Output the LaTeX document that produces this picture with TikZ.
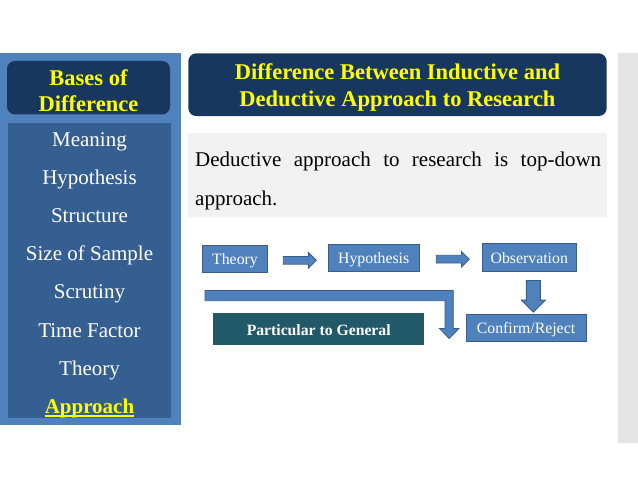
\documentclass[tikz,border=0pt]{standalone}
\usepackage{fontspec}
\setmainfont{Liberation Serif}
\usetikzlibrary{positioning}
\usetikzlibrary{calc}
\usetikzlibrary{shapes.arrows}

\definecolor{panelblue}{HTML}{4F81BD}
\definecolor{listblue}{HTML}{365F91}
\definecolor{navy}{HTML}{17375E}
\definecolor{boxline}{HTML}{385D8A}
\definecolor{darkteal}{HTML}{215968}
\definecolor{hiyellow}{HTML}{FFFF00}
\definecolor{lightgray}{HTML}{F2F2F2}
\definecolor{stripgray}{HTML}{E4E4E4}

\begin{document}
\begin{tikzpicture}
		[x=1pt, y=-1pt,
		navybox/.style={rectangle, rounded corners=8pt, fill=navy, inner sep=0pt},
		head/.style={text=hiyellow, align=center, inner sep=0pt, font=\bfseries\fontsize{22.5}{26.7}\selectfont},
		item/.style={text=white, anchor=base, inner sep=0pt, font=\fontsize{21}{25}\selectfont},
		flowbox/.style={rectangle, draw=boxline, fill=panelblue, text=white, line width=0.8pt, inner sep=0pt, text height=12.5pt, text depth=1.5pt, font=\fontsize{15.8}{18}\selectfont},
		barrow/.style={single arrow, draw=boxline, fill=panelblue, line width=0.8pt, inner sep=3.5pt, single arrow head extend=4pt, minimum height=33pt}]
		\useasboundingbox (0,0) rectangle (638,479);

		% left column
		\fill[panelblue] (0,52.5) rectangle (180.5,424.5);
		\fill[listblue] (8,123) rectangle (171,418);
		\node[navybox, minimum width=163pt, minimum height=53.5pt] (basesbox) at (88.5,87.7) {};
		\node[head] (bases) at ($(basesbox.center)+(0,3)$) {Bases of\\Difference};
		\node[item] (meaning) at (89.5,146.5) {Meaning};
		\node[item] (hypo) at (89.5,184.6) {Hypothesis};
		\node[item] (struct) at (89.5,222.7) {Structure};
		\node[item] (sample) at (89.5,260.8) {Size of Sample};
		\node[item] (scrut) at (89.5,298.9) {Scrutiny};
		\node[item] (time) at (89.5,337) {Time Factor};
		\node[item] (theo) at (89.5,375.1) {Theory};
		\node[item, text=hiyellow, font=\bfseries\fontsize{21}{25}\selectfont] (appr) at (89.5,413.2) {Approach};
		\draw[hiyellow, line width=2pt] ($(appr.base west)+(0,3.2)$) -- ($(appr.base east)+(0,3.2)$);

		% right side
		\fill[stripgray] (618.3,52.7) rectangle (638,443.3);
		\node[navybox, minimum width=418.4pt, minimum height=62.7pt] (titlebox) at (397.5,84.7) {};
		\node[head] (title) at ($(titlebox.center)+(0,3)$) {Difference Between Inductive and\\Deductive Approach to Research};
		\fill[lightgray] (188,133.3) rectangle (606.7,216.7);
		\node[anchor=base west, inner sep=0pt, text width=406pt, align=justify, font=\fontsize{21}{38.3}\selectfont] (desc) at (195,166.7) {Deductive approach to research is top-down\linebreak approach.};

		% flow
		\node[flowbox, minimum width=64.6pt, minimum height=27.7pt] (theory) at (235,258.8) {Theory};
		\node[flowbox, minimum width=90.7pt, minimum height=27.7pt] (hyp) at (373.7,257.8) {Hypothesis};
		\node[flowbox, minimum width=93.3pt, minimum height=28.4pt] (obs) at (529.3,257.5) {Observation};
		\node[flowbox, minimum width=120pt, minimum height=27.7pt] (conf) at (526,327.8) {Confirm/Reject};
		\node[rectangle, fill=darkteal, text=white, inner sep=0pt, minimum width=210.7pt, minimum height=32.5pt, text height=13pt, text depth=0pt, font=\bfseries\fontsize{15.7}{18}\selectfont] (part) at (318.7,329.2) {Particular to General};

		\node[barrow] (a1) at ($(theory.east)!.5!(hyp.west)+(0,2)$) {};
		\node[barrow] (a2) at ($(hyp.east)!.5!(obs.west)+(0,1.5)$) {};
		\node[barrow, rotate=-90, inner sep=6.6pt, single arrow head extend=5pt, minimum height=31.6pt] (a3) at ($(obs.south)!.5!(conf.north)+(5.7,0)$) {};
		\draw[fill=panelblue, draw=boxline, line width=0.8pt] (205,290.5) -- (453.3,290.5) -- (453.3,328.4) -- (459,328.4) -- (449.2,338.5) -- (439.3,328.4) -- (445,328.4) -- (445,300.7) -- (205,300.7) -- cycle;
	\end{tikzpicture}
\end{document}
